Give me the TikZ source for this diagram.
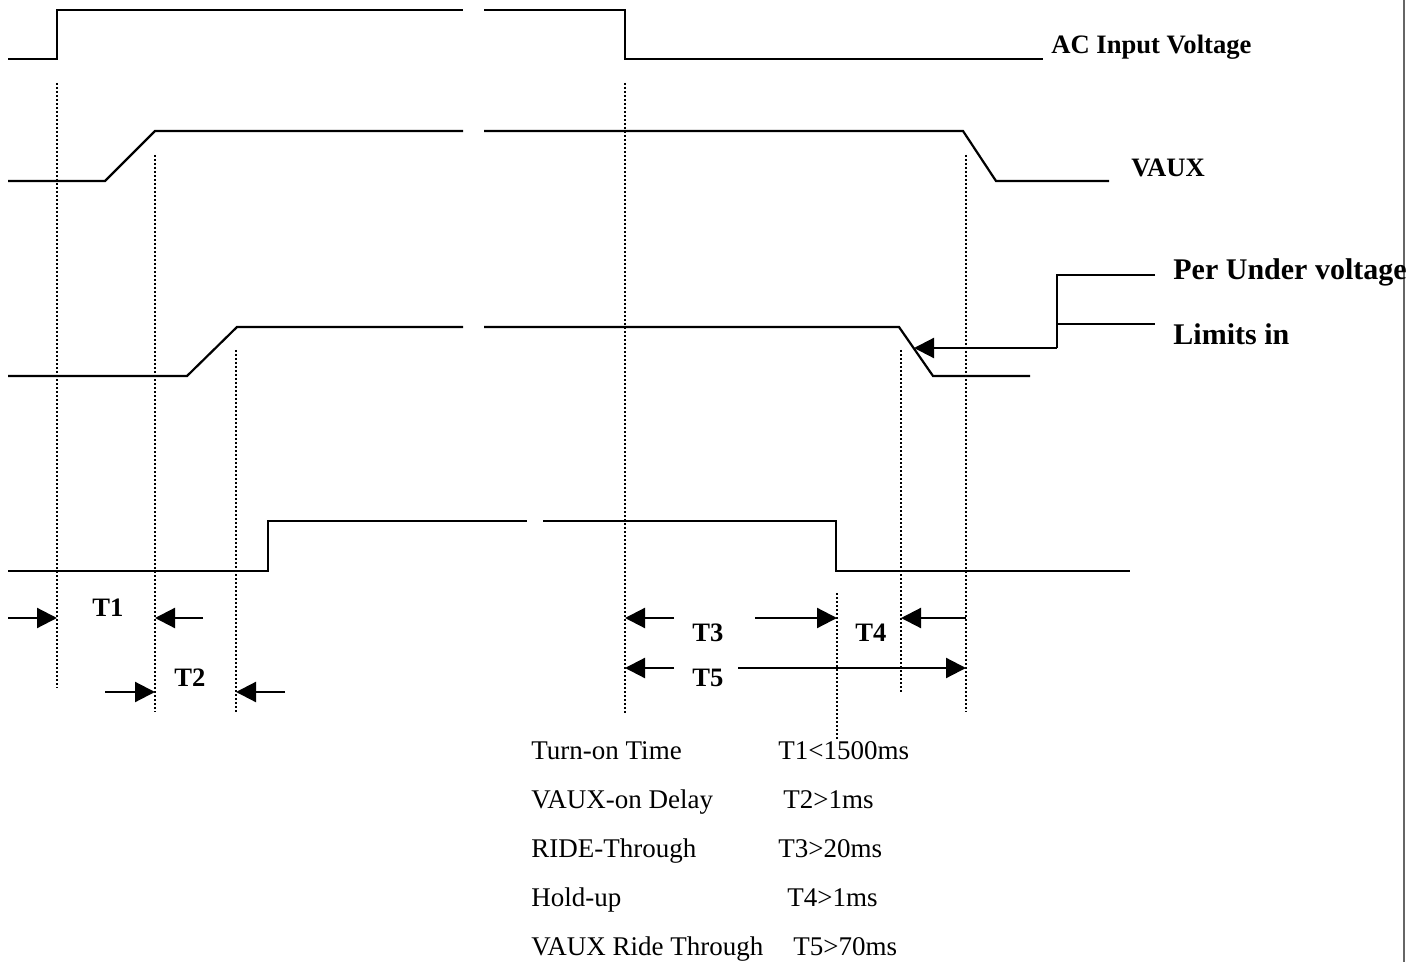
\documentclass[tikz,border=0pt]{standalone}
\usepackage{fontspec}
\setmainfont{Liberation Serif}
\usetikzlibrary{arrows.meta}
\tikzset{
  wave/.style={line width=1.1pt, line join=miter},
  marker/.style={line width=1.2pt, dash pattern=on 1pt off 1pt},
  dimarrow/.style={line width=1.1pt, -{Triangle[length=10pt,width=10pt]}},
  sig_label/.style={font=\fontsize{13.3}{16}\selectfont\bfseries, inner sep=0pt, anchor=base west},
  big_label/.style={font=\fontsize{15}{18}\selectfont\bfseries, inner sep=0pt, anchor=base west},
  t_label/.style={font=\fontsize{13.3}{16}\selectfont\bfseries, inner sep=0pt, anchor=base},
  spec_label/.style={font=\fontsize{13.5}{16}\selectfont, inner sep=0pt, anchor=base west}
}

\begin{document}
\begin{tikzpicture}[x=0.5pt, y=-0.5pt]
    \useasboundingbox (0,0) rectangle (1418,962);

    % Rahmen rechts
    \draw[black!60, line width=1pt] (1404,0) -- (1404,962);

    % AC Input Voltage
    \draw[wave] (8,59) -- (57,59) -- (57,10) -- (463,10);
    \draw[wave] (484,10) -- (625,10) -- (625,59) -- (1043,59);
    \node[sig_label] (acin) at (1051,54) {AC Input Voltage};

    % VAUX
    \draw[wave] (8,181) -- (105,181) -- (155,131) -- (463,131);
    \draw[wave] (484,131) -- (963,131) -- (996,181) -- (1109,181);
    \node[sig_label] (vaux) at (1131,177) {VAUX};

    % Unterspannung
    \draw[wave] (8,376) -- (187,376) -- (237,327) -- (463,327);
    \draw[wave] (484,327) -- (899,327) -- (933,376) -- (1030,376);

    % Ausgang
    \draw[wave] (8,571) -- (268,571) -- (268,521) -- (527,521);
    \draw[wave] (543,521) -- (836,521) -- (836,571) -- (1130,571);

    % Markierungen (gepunktet)
    \foreach \x/\top/\bot in {57/83/688, 155/155/712, 236/350/712, 625/83/715,
                              837/593/740, 901/350/692, 966/155/712} {
        \draw[marker] (\x,\top) -- (\x,\bot);
    }

    % Hinweis Per Under voltage
    \coordinate (pu_tip) at (914,348);
    \coordinate (pu_bend) at (1057,348);
    \coordinate (pu_top) at (1057,275);
    \coordinate (pu_mid) at (1057,324);
    \coordinate (pu_top_end) at (1155,275);
    \coordinate (pu_mid_end) at (1155,324);
    \draw[wave] (pu_top_end) -- (pu_top) -- (pu_bend);
    \draw[wave] (pu_mid) -- (pu_mid_end);
    \draw[dimarrow] (pu_bend) -- (pu_tip);
    \node[big_label] (perunder) at (1173,280) {Per Under voltage};
    \node[big_label] (limits) at (1173,345) {Limits in};

    % Zeiten T1 und T2
    \draw[dimarrow] (8,618) -- (57,618);
    \draw[dimarrow] (203,618) -- (155,618);
    \node[t_label] (t1) at (108,616) {T1};
    \draw[dimarrow] (105,692) -- (155,692);
    \draw[dimarrow] (285,692) -- (236,692);
    \node[t_label] (t2) at (190,686) {T2};

    % Zeiten T3, T4, T5
    \draw[dimarrow] (674,618) -- (625,618);
    \draw[dimarrow] (755,618) -- (837,618);
    \node[t_label] (t3) at (708,641) {T3};
    \draw[dimarrow] (966,618) -- (901,618);
    \node[t_label] (t4) at (871,641) {T4};
    \draw[dimarrow] (674,668) -- (625,668);
    \draw[dimarrow] (738,668) -- (966,668);
    \node[t_label] (t5) at (708,686) {T5};

    % Tabelle
    \foreach \i/\name/\val/\vx in {0/Turn-on Time/T1<1500ms/778,
                                  1/VAUX-on Delay/T2>1ms/783,
                                  2/RIDE-Through/T3>20ms/778,
                                  3/Hold-up/T4>1ms/787,
                                  4/VAUX Ride Through/T5>70ms/793} {
        \node[spec_label] (spec\i) at (531,759+\i*49) {\name};
        \node[spec_label] (val\i) at (\vx,759+\i*49) {\val};
    }

\end{tikzpicture}
\end{document}
